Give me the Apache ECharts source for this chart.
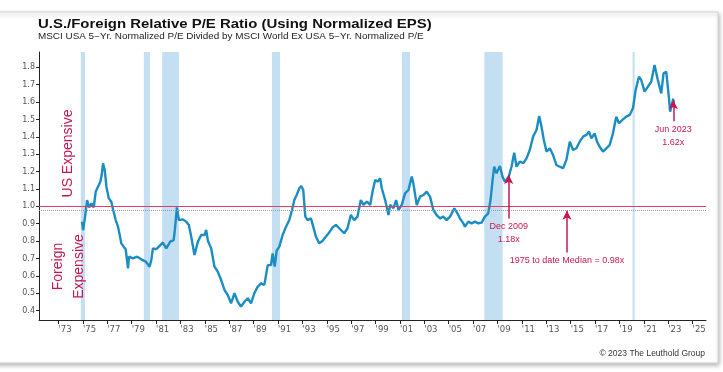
<!DOCTYPE html>
<html><head><meta charset="utf-8">
<script src="https://cdn.jsdelivr.net/npm/echarts@6/dist/echarts.min.js"></script>
<style>html,body{margin:0;padding:0;background:#fff}#c{width:723px;height:372px}</style>
</head><body><div id="c"></div>
<script>
// Monthly-ish readings (decimal year) of U.S./Foreign relative P/E
const dates = [
1974.93,1975.02,1975.18,1975.34,1975.51,1975.70,1975.89,1976.05,1976.24,1976.43,1976.54,1976.65,1976.79,1976.93,
1977.12,1977.33,1977.47,1977.69,1977.88,1978.02,1978.15,1978.34,1978.51,1978.70,1978.78,1979.11,1979.44,1979.79,
1980.15,1980.47,1980.61,1980.74,1981.02,1981.29,1981.56,1981.84,1982.16,1982.44,1982.54,1982.71,1982.87,1983.20,
1983.47,1983.69,1983.88,1984.15,1984.43,1984.70,1984.97,1985.11,1985.25,1985.52,1985.79,1986.06,1986.34,1986.61,
1986.88,1987.15,1987.43,1987.70,1987.97,1988.25,1988.52,1988.79,1989.06,1989.34,1989.61,1989.88,1990.16,1990.43,
1990.56,1990.73,1990.89,1991.11,1991.38,1991.66,1991.93,1992.15,1992.34,1992.53,1992.75,1992.91,1993.07,1993.24,
1993.43,1993.70,1993.89,1994.11,1994.38,1994.66,1994.93,1995.20,1995.48,1995.75,1996.02,1996.43,1996.70,1996.97,
1997.25,1997.52,1997.79,1998.01,1998.29,1998.56,1998.78,1998.97,1999.16,1999.38,1999.51,1999.79,2000.06,2000.20,
2000.47,2000.69,2000.88,2001.15,2001.42,2001.70,2001.97,2002.10,2002.38,2002.65,2002.92,2003.20,2003.47,2003.74,
2004.01,2004.29,2004.56,2004.83,2005.11,2005.46,2005.71,2005.92,2006.20,2006.33,2006.61,2006.88,2007.15,2007.42,
2007.70,2007.97,2008.24,2008.43,2008.60,2008.73,2008.92,2009.20,2009.41,2009.61,2009.92,2010.15,2010.37,2010.56,
2010.83,2011.11,2011.38,2011.65,2011.92,2012.20,2012.42,2012.61,2012.80,2013.02,2013.29,2013.56,2013.83,2014.11,
2014.38,2014.65,2014.93,2015.20,2015.47,2015.74,2016.02,2016.29,2016.51,2016.70,2016.97,2017.16,2017.38,2017.65,
2017.93,2018.20,2018.47,2018.74,2018.96,2019.24,2019.56,2019.84,2020.11,2020.33,2020.60,2020.79,2021.06,2021.34,
2021.61,2021.88,2022.15,2022.43,2022.62,2022.84,2023.05,2023.16,2023.30,2023.42
];
const ratio = [
0.912,0.864,0.941,1.036,0.994,1.017,0.994,1.084,1.113,1.142,1.180,1.247,1.209,1.113,
1.046,1.027,0.983,0.921,0.883,0.835,0.787,0.768,0.753,0.643,0.710,0.701,0.710,0.695,
0.682,0.653,0.691,0.758,0.753,0.772,0.791,0.758,0.797,0.806,0.864,0.994,0.921,0.925,
0.912,0.893,0.826,0.720,0.797,0.835,0.835,0.864,0.802,0.758,0.653,0.624,0.576,0.519,
0.490,0.442,0.500,0.451,0.423,0.451,0.471,0.442,0.500,0.538,0.557,0.548,0.662,0.662,
0.729,0.653,0.745,0.768,0.835,0.883,0.921,0.979,1.036,1.065,1.104,1.117,1.094,0.941,
0.921,0.931,0.883,0.826,0.787,0.802,0.826,0.849,0.879,0.893,0.874,0.845,0.874,0.950,
0.921,0.941,1.036,1.008,1.027,1.008,1.094,1.152,1.142,1.161,1.104,1.036,0.950,1.008,
0.989,1.036,0.979,1.008,1.075,1.094,1.171,1.132,1.008,1.056,1.065,1.084,1.056,0.979,
0.950,0.931,0.941,0.921,0.941,0.989,0.960,0.931,0.902,0.883,0.912,0.902,0.912,0.902,
0.906,0.941,0.960,1.036,1.152,1.228,1.190,1.232,1.171,1.142,1.170,1.228,1.309,1.228,
1.257,1.248,1.276,1.324,1.401,1.439,1.520,1.458,1.382,1.315,1.334,1.295,1.238,1.228,
1.219,1.267,1.372,1.324,1.334,1.372,1.401,1.411,1.430,1.391,1.420,1.372,1.343,1.315,
1.334,1.353,1.420,1.516,1.478,1.497,1.516,1.526,1.564,1.669,1.746,1.727,1.660,1.689,
1.717,1.813,1.727,1.650,1.765,1.775,1.631,1.545,1.536,1.620
];
const recessionStarts = [1974.83, 1980.0, 1981.5, 1990.5, 2001.17, 2007.92, 2020.08];
const recessionEnds   = [1975.17, 1980.5, 1982.87, 1991.17, 2001.83, 2009.42, 2020.25];
const xTickYears = [1973,1975,1977,1979,1981,1983,1985,1987,1989,1991,1993,1995,1997,1999,2001,2003,2005,2007,2009,2011,2013,2015,2017,2019,2021,2023,2025];
const yTickValues = [0.4,0.5,0.6,0.7,0.8,0.9,1.0,1.1,1.2,1.3,1.4,1.5,1.6,1.7,1.8];
const parityValue = 1.0;
const medianValue = 0.98;
const annotationX   = [2009.92, 2014.7, 2023.42];
const annotationTip = [1.18, 0.975, 1.61];
const annotationEnd = [0.93, 0.735, 1.49];
const annotationText = ['Dec 2009\n1.18x', '1975 to date Median = 0.98x', 'Jun 2023\n1.62x'];

const RED = '#c8174f';
const FONT = '"Liberation Sans", Arial, sans-serif';
const pts = dates.map((d, i) => [d, ratio[i]]);
const chart = echarts.init(document.getElementById('c'), null, {renderer: 'canvas'});
chart.setOption({
  animation: false,
  backgroundColor: '#fff',
  textStyle: {fontFamily: 'Liberation Sans, Arial, sans-serif'},
  grid: {left: 39, top: 52, width: 667, height: 268},
  xAxis: {
    type: 'value', min: 1971.4, max: 2026.1,
    axisLine: {show: true, lineStyle: {color: '#222', width: 1}},
    axisTick: {show: true, customValues: xTickYears, length: 4, lineStyle: {color: '#222'}},
    axisLabel: {customValues: xTickYears, formatter: v => "'" + String(Math.round(v)).slice(2),
      fontFamily: 'DejaVu Sans', fontSize: 8.5, color: '#555', margin: 5, align: 'left'},
    splitLine: {show: false}
  },
  yAxis: {
    type: 'value', min: 0.346, max: 1.888,
    axisLine: {show: true, lineStyle: {color: '#222', width: 1}},
    axisTick: {show: true, customValues: yTickValues, length: 3, lineStyle: {color: '#222'}},
    axisLabel: {customValues: yTickValues, formatter: v => v.toFixed(1),
      fontFamily: 'DejaVu Sans', fontSize: 8, color: '#555', margin: 4},
    splitLine: {show: false}
  },
  graphic: [
    {type: 'rect', z: -10, shape: {x: -10, y: 12, width: 728, height: 351},
     style: {fill: '#fff', stroke: '#d6d6d6', lineWidth: 1, shadowBlur: 4, shadowColor: 'rgba(0,0,0,0.28)', shadowOffsetX: 1, shadowOffsetY: 2}},
    {type: 'text', z: 100, x: 38, y: 18, scaleX: 1.15, style: {text: 'U.S./Foreign Relative P/E Ratio (Using Normalized EPS)',
      font: 'bold 13px ' + FONT, fill: '#111', align: 'left', verticalAlign: 'top'}},
    {type: 'text', z: 100, x: 38, y: 32, scaleX: 1.165, style: {text: 'MSCI USA 5\u2212Yr. Normalized P/E Divided by MSCI World Ex USA 5\u2212Yr. Normalized P/E',
      font: '8.5px ' + FONT, fill: '#222', align: 'left', verticalAlign: 'top'}},
    {type: 'text', z: 100, x: 705, y: 354, style: {text: '\u00a9 2023 The Leuthold Group',
      font: '8.5px ' + FONT, fill: '#333', align: 'right', verticalAlign: 'middle'}},
    {type: 'text', z: 100, x: 68.5, y: 153.5, rotation: Math.PI / 2, style: {text: 'US Expensive',
      font: '14px ' + FONT, fill: RED, align: 'center', verticalAlign: 'middle'}},
    {type: 'text', z: 100, x: 68.5, y: 266.5, rotation: Math.PI / 2, style: {text: 'Foreign\nExpensive',
      font: '14px ' + FONT, fill: RED, align: 'center', verticalAlign: 'middle', lineHeight: 21.5}}
  ],
  series: [
    {type: 'line', z: 1, silent: true, data: pts, showSymbol: false, lineStyle: {opacity: 0},
     markArea: {silent: true, itemStyle: {color: '#c5dff2'},
       data: recessionStarts.map((s, i) => [{xAxis: s}, {xAxis: recessionEnds[i]}])}},
    {type: 'line', z: 2, silent: true, data: pts, showSymbol: false, lineStyle: {opacity: 0},
     markLine: {silent: true, symbol: 'none', label: {show: false},
       data: [
         {yAxis: parityValue, lineStyle: {color: '#d8406a', type: 'solid', width: 1}},
         {yAxis: medianValue, lineStyle: {color: '#9a9a9a', type: 'dotted', width: 1}}
       ]}},
    {type: 'line', z: 3, data: pts, showSymbol: false, smooth: false,
     lineStyle: {color: '#1b8dc3', width: 2.4}, itemStyle: {color: '#1b8dc3'}},
    {type: 'line', z: 4, silent: true, data: pts, showSymbol: false, lineStyle: {opacity: 0},
     markLine: {silent: true, symbol: ['arrow', 'none'], symbolSize: [7, 9],
       lineStyle: {color: RED, type: 'solid', width: 1.5},
       label: {show: true, position: 'end', formatter: '{b}', color: RED, fontSize: 9, lineHeight: 13, distance: 2},
       data: annotationX.map((x, i) => [
         {name: annotationText[i], coord: [x, annotationTip[i]]},
         {name: annotationText[i], coord: [x, annotationEnd[i]]}
       ])}}
  ]
});
</script></body></html>
